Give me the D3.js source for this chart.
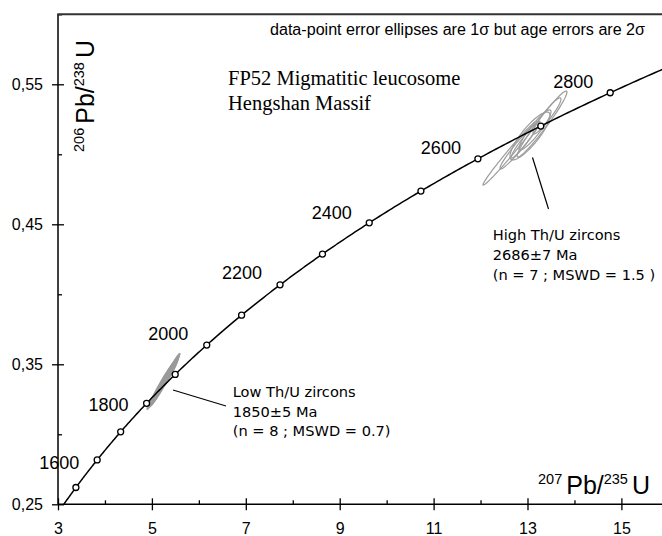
<!DOCTYPE html>
<html><head><meta charset="utf-8">
<script src="https://cdn.jsdelivr.net/npm/d3@7"></script>
<style>body{margin:0;background:#fff}svg{display:block}</style>
</head><body>
<svg id="chart" width="662" height="536"></svg>
<script>
// ---- data ----
const xTicks = [3, 5, 7, 9, 11, 13, 15];
const xMinorTicks = [4, 6, 8, 10, 12, 14, 16];
const yTicks = [0.25, 0.35, 0.45, 0.55];
const yMinorTicks = [0.30, 0.40, 0.50, 0.60];
const markerAges = [1500, 1600, 1700, 1800, 1900, 2000, 2100, 2200, 2300, 2400, 2500, 2600, 2700, 2800];
const labelAges = [1600, 1800, 2000, 2200, 2400, 2600, 2800];
const decayConstants = {l238: 1.55125e-10, l235: 9.8485e-10};
// ellipses: [207Pb/235U, 206Pb/238U, sigma x, sigma y, rho]
const lowThU = [
  [5.023, 0.3252, 0.128, 0.0074, 0.955],
  [5.130, 0.3302, 0.170, 0.0099, 0.955],
  [5.215, 0.3352, 0.192, 0.0111, 0.955],
  [5.279, 0.3388, 0.149, 0.0086, 0.955],
  [5.364, 0.3431, 0.192, 0.0111, 0.955],
  [5.428, 0.3474, 0.149, 0.0086, 0.955],
  [5.492, 0.3516, 0.106, 0.0062, 0.955],
  [5.236, 0.3366, 0.298, 0.0171, 0.975]
];
const highThU = [
  [13.309, 0.5216, 0.532, 0.0236, 0.968],
  [13.053, 0.5131, 0.426, 0.0171, 0.850],
  [12.627, 0.5009, 0.575, 0.0229, 0.989],
  [12.840, 0.5066, 0.426, 0.0171, 0.966],
  [13.160, 0.5174, 0.341, 0.0143, 0.917],
  [12.947, 0.5102, 0.298, 0.0129, 0.963],
  [13.415, 0.5274, 0.298, 0.0129, 0.932]
];
const title = ["FP52 Migmatitic leucosome", "Hengshan Massif"];
const note = "data-point error ellipses are 1σ but age errors are 2σ";
const lowText = ["Low Th/U zircons", "1850±5 Ma", "(n = 8 ; MSWD = 0.7)"];
const highText = ["High Th/U zircons", "2686±7 Ma", "(n = 7 ; MSWD = 1.5 )"];

// ---- layout ----
const labelOffset = {1600: [-18, 9], 1800: [-18, 8], 2000: [-18.5, -5], 2200: [-18, -6],
  2400: [-17.5, -4], 2600: [-17, -5], 2800: [-17, -5]};
const svg = d3.select("#chart");
const L = 58, B = 504.3, T = 14.3;
const x = d3.scaleLinear().domain([3, 16]).range([L, L + 13 * 46.95]);
const y = d3.scaleLinear().domain([0.25, 0.60]).range([B, T]);
const sans = "'Liberation Sans', Arial, sans-serif";

const conc = t => [Math.exp(decayConstants.l235 * t * 1e6) - 1, Math.exp(decayConstants.l238 * t * 1e6) - 1];

svg.append("clipPath").attr("id", "clip").append("rect")
  .attr("x", L).attr("y", T).attr("width", 662 - L).attr("height", B - T);
const plot = svg.append("g").attr("clip-path", "url(#clip)");

// ellipses
function ellipsePts(e) {
  const [cx, cy, sx, sy, r] = e; const pts = [];
  for (let i = 0; i < 90; i++) {
    const a = i / 90 * 2 * Math.PI;
    pts.push([cx + sx * Math.cos(a), cy + sy * (r * Math.cos(a) + Math.sqrt(1 - r * r) * Math.sin(a))]);
  }
  return pts;
}
const eLine = d3.line().x(d => x(d[0])).y(d => y(d[1])).curve(d3.curveLinearClosed);
plot.selectAll("path.low").data(lowThU).join("path").attr("class", "low")
  .attr("d", d => eLine(ellipsePts(d))).attr("fill", "#9a9a9a").attr("fill-opacity", 0.7)
  .attr("stroke", "#9a9a9a").attr("stroke-width", 1.2);
plot.selectAll("path.high").data(highThU).join("path").attr("class", "high")
  .attr("d", d => eLine(ellipsePts(d))).attr("fill", "none")
  .attr("stroke", "#9c9c9c").attr("stroke-width", 1.2);

// concordia
const curveAges = d3.range(1400, 2960, 5);
plot.append("path").attr("d", d3.line().x(t => x(conc(t)[0])).y(t => y(conc(t)[1]))(curveAges))
  .attr("fill", "none").attr("stroke", "#000").attr("stroke-width", 1.5);
plot.selectAll("circle.m").data(markerAges).join("circle").attr("class", "m")
  .attr("cx", t => x(conc(t)[0])).attr("cy", t => y(conc(t)[1])).attr("r", 3)
  .attr("fill", "#fff").attr("stroke", "#000").attr("stroke-width", 1.3);

svg.selectAll("text.age").data(labelAges).join("text").attr("class", "age")
  .attr("x", t => x(conc(t)[0]) + labelOffset[t][0]).attr("y", t => y(conc(t)[1]) + labelOffset[t][1])
  .attr("text-anchor", "end").attr("font-family", sans).attr("font-size", 18).text(t => t);

// axes
const fmtY = d => d.toFixed(2).replace(".", ",");
function styleAxis(g) { g.select(".domain").remove(); g.selectAll("line").attr("stroke", "#000").attr("stroke-width", 1.3); }
svg.append("g").attr("transform", `translate(0,${B})`)
  .call(d3.axisBottom(x).tickValues(xTicks).tickSize(6).tickPadding(12).tickFormat(d3.format("d")))
  .call(styleAxis).call(g => g.selectAll("text").attr("font-family", sans).attr("font-size", 16).attr("fill", "#000"));
svg.append("g").attr("transform", `translate(0,${B})`)
  .call(d3.axisTop(x).tickValues(xTicks).tickSize(6).tickFormat("")).call(styleAxis);
svg.append("g").attr("transform", `translate(0,${B})`)
  .call(d3.axisTop(x).tickValues(xMinorTicks).tickSize(4).tickFormat("")).call(styleAxis);
svg.append("g").attr("transform", `translate(${L},0)`)
  .call(d3.axisLeft(y).tickValues(yTicks).tickSize(6).tickPadding(9).tickFormat(fmtY))
  .call(styleAxis).call(g => g.selectAll("text").attr("font-family", sans).attr("font-size", 16).attr("fill", "#000"));
svg.append("g").attr("transform", `translate(${L},0)`)
  .call(d3.axisRight(y).tickValues(yTicks).tickSize(6).tickFormat("")).call(styleAxis);
svg.append("g").attr("transform", `translate(${L},0)`)
  .call(d3.axisRight(y).tickValues(yMinorTicks).tickSize(4).tickFormat("")).call(styleAxis);
svg.append("line").attr("x1", L).attr("x2", L).attr("y1", T).attr("y2", B).attr("stroke", "#000").attr("stroke-width", 1.5);
svg.append("line").attr("x1", L).attr("x2", 662).attr("y1", B).attr("y2", B).attr("stroke", "#000").attr("stroke-width", 1.5);
svg.append("line").attr("x1", L - 0.75).attr("x2", 662).attr("y1", T).attr("y2", T).attr("stroke", "#333").attr("stroke-width", 2);

// axis titles
function isoLabel(g, mass, el, mass2, el2) {
  const t = g.append("text").attr("font-family", sans).attr("fill", "#000").attr("text-anchor", "middle");
  t.append("tspan").attr("font-size", 14.5).attr("dy", -10).text(mass);
  t.append("tspan").attr("font-size", 25).attr("dy", 10).attr("dx", 4).text("Pb/");
  t.append("tspan").attr("font-size", 14.5).attr("dy", -10).text(mass2);
  t.append("tspan").attr("font-size", 25).attr("dy", 10).attr("dx", 4).text(el2);
}
isoLabel(svg.append("g").attr("transform", "translate(594,494)"), "207", "Pb", "235", "U");
isoLabel(svg.append("g").attr("transform", "translate(94,96) rotate(-90)"), "206", "Pb", "238", "U");

// texts
svg.append("text").attr("x", 270).attr("y", 34.5).attr("font-family", sans).attr("font-size", 16)
  .attr("textLength", 375).attr("lengthAdjust", "spacingAndGlyphs").text(note);
svg.selectAll("text.title").data(title).join("text").attr("class", "title")
  .attr("x", 228).attr("y", (d, i) => 85 + i * 25)
  .attr("font-family", "'Liberation Serif', 'Times New Roman', serif").attr("font-size", 20.5).text(d => d);
const ann = "'DejaVu Sans', Verdana, sans-serif";
svg.selectAll("text.low").data(lowText).join("text").attr("class", "low")
  .attr("x", 232.7).attr("y", (d, i) => 397 + i * 19.5).attr("font-family", ann).attr("font-size", 14.6).text(d => d);
svg.selectAll("text.high").data(highText).join("text").attr("class", "high")
  .attr("x", 492.7).attr("y", (d, i) => 240 + i * 19.8).attr("font-family", ann).attr("font-size", 14.6).text(d => d);
// leader lines
svg.append("line").attr("x1", 173).attr("y1", 390).attr("x2", 226).attr("y2", 406).attr("stroke", "#000").attr("stroke-width", 1.2);
svg.append("line").attr("x1", 532.5).attr("y1", 157.5).attr("x2", 548.5).attr("y2", 209).attr("stroke", "#000").attr("stroke-width", 1.2);
</script>
</body></html>
